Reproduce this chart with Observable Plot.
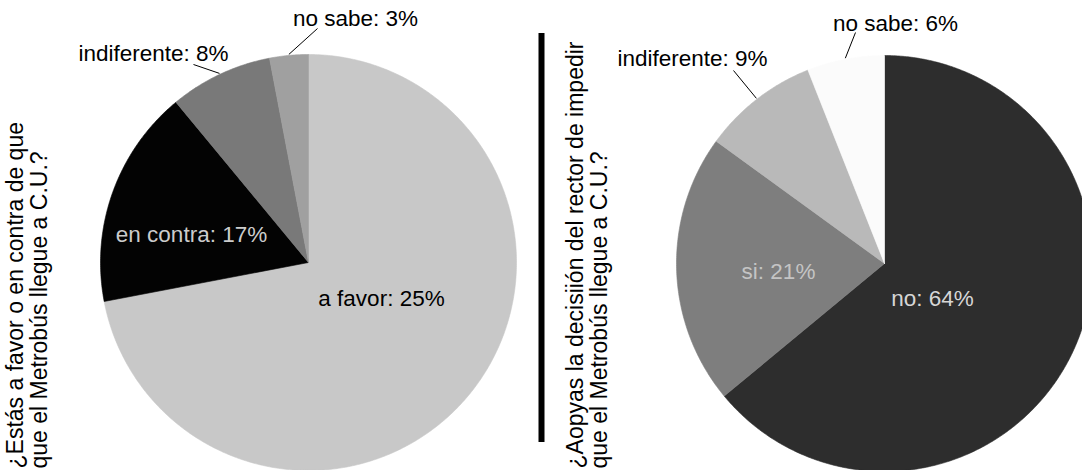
<!DOCTYPE html>
<html><head><meta charset="utf-8">
<script src="https://cdn.jsdelivr.net/npm/d3@7"></script>
<script src="https://cdn.jsdelivr.net/npm/@observablehq/plot@0.6"></script>
<style>html,body{margin:0;padding:0;background:#fff;overflow:hidden;}</style>
</head><body><div id="chart"></div>
<script>
// ---- data ----
const leftCategories = ["a favor", "en contra", "indiferente", "no sabe"];
const leftValues = [72, 17, 8, 3];
const leftLabels = ["a favor: 25%", "en contra: 17%", "indiferente: 8%", "no sabe: 3%"];
const rightCategories = ["no", "si", "indiferente", "no sabe"];
const rightValues = [64, 21, 9, 6];
const rightLabels = ["no: 64%", "si: 21%", "indiferente: 9%", "no sabe: 6%"];
const leftTitle = ["¿Estás a favor o en contra de que", "que el Metrobús llegue a C.U.?"];
const rightTitle = ["¿Aopyas la decisiión del rector de impedir", "que el Metrobús llegue a C.U.?"];

// ---- styles / layout ----
const W = 1082, H = 470;
const leftColors = ["#c8c8c8", "#030303", "#797979", "#a0a0a0"];
const rightColors = ["#2d2d2d", "#7e7e7e", "#b9b9b9", "#fbfbfb"];
const leftTextColors = ["#000", "#cccccc", "#000", "#000"];
const rightTextColors = ["#d6d6d6", "#c4c4c4", "#000", "#000"];
const pies = [
  {cx: 308, cy: 262, r: 208, values: leftValues, cats: leftCategories, labels: leftLabels, colors: leftColors, tcolors: leftTextColors,
   labelOff: [[73, 36], [-117, -28], [-155, -209], [47, -244]],
   leaderOff: [null, null, [40, 11], [-38, 10]]},
  {cx: 884, cy: 263, r: 208, values: rightValues, cats: rightCategories, labels: rightLabels, colors: rightColors, tcolors: rightTextColors,
   labelOff: [[48, 35], [-106, 8], [-192, -205], [11, -240]],
   leaderOff: [null, null, [41, 12], [-40, 9]]}
];
const titles = [
  {lines: leftTitle, xs: [15, 39]},
  {lines: rightTitle, xs: [575, 599]}
];

const slicePts = [], labelPts = [], leaders = [];
pies.forEach((p, pi) => {
  const total = d3.sum(p.values);
  let acc = 0;
  p.values.forEach((v, i) => {
    const a0 = acc / total * 2 * Math.PI; acc += v; const a1 = acc / total * 2 * Math.PI;
    const k = pi + "-" + i;
    const n = Math.max(2, Math.ceil((a1 - a0) / (Math.PI / 360)));
    slicePts.push({k, x: p.cx, y: p.cy, c: p.colors[i]});
    for (let j = 0; j <= n; j++) {
      const a = a0 + (a1 - a0) * j / n;
      slicePts.push({k, x: p.cx + p.r * Math.sin(a), y: p.cy - p.r * Math.cos(a), c: p.colors[i]});
    }
    slicePts.push({k, x: p.cx, y: p.cy, c: p.colors[i]});
    const lx = p.cx + p.labelOff[i][0], ly = p.cy + p.labelOff[i][1];
    labelPts.push({x: lx, y: ly, text: p.labels[i], c: p.tcolors[i]});
    if (p.leaderOff[i]) {
      const am = (a0 + a1) / 2;
      leaders.push({x1: lx + p.leaderOff[i][0], y1: ly + p.leaderOff[i][1],
                    x2: p.cx + (p.r + 1) * Math.sin(am), y2: p.cy - (p.r + 1) * Math.cos(am)});
    }
  });
});
const titlePts = [];
titles.forEach(t => t.lines.forEach((s, i) => titlePts.push({x: t.xs[i], y: 468, text: s})));

const chart = Plot.plot({
  width: W, height: H, margin: 0,
  x: {domain: [0, W], range: [0, W], axis: null},
  y: {domain: [0, H], range: [0, H], axis: null},
  color: {type: "identity"},
  style: {fontFamily: "'Liberation Sans', Arial, sans-serif", background: "#fff", overflow: "hidden"},
  marks: [
    Plot.line(slicePts, {x: "x", y: "y", z: "k", fill: "c", stroke: "c", strokeWidth: 0.6, curve: "linear", clip: true}),
    Plot.link(leaders, {x1: "x1", y1: "y1", x2: "x2", y2: "y2", stroke: "#000", strokeWidth: 1}),
    Plot.text(labelPts, {x: "x", y: "y", text: "text", fill: "c", fontSize: 22.5}),
    Plot.text(titlePts, {x: "x", y: "y", text: "text", rotate: -90, textAnchor: "start", fontSize: 23, fill: "#000"}),
    Plot.ruleX([W / 2], {y1: 33, y2: 442, strokeWidth: 6, stroke: "#000"})
  ]
});
document.getElementById("chart").appendChild(chart);
</script>
</body></html>
